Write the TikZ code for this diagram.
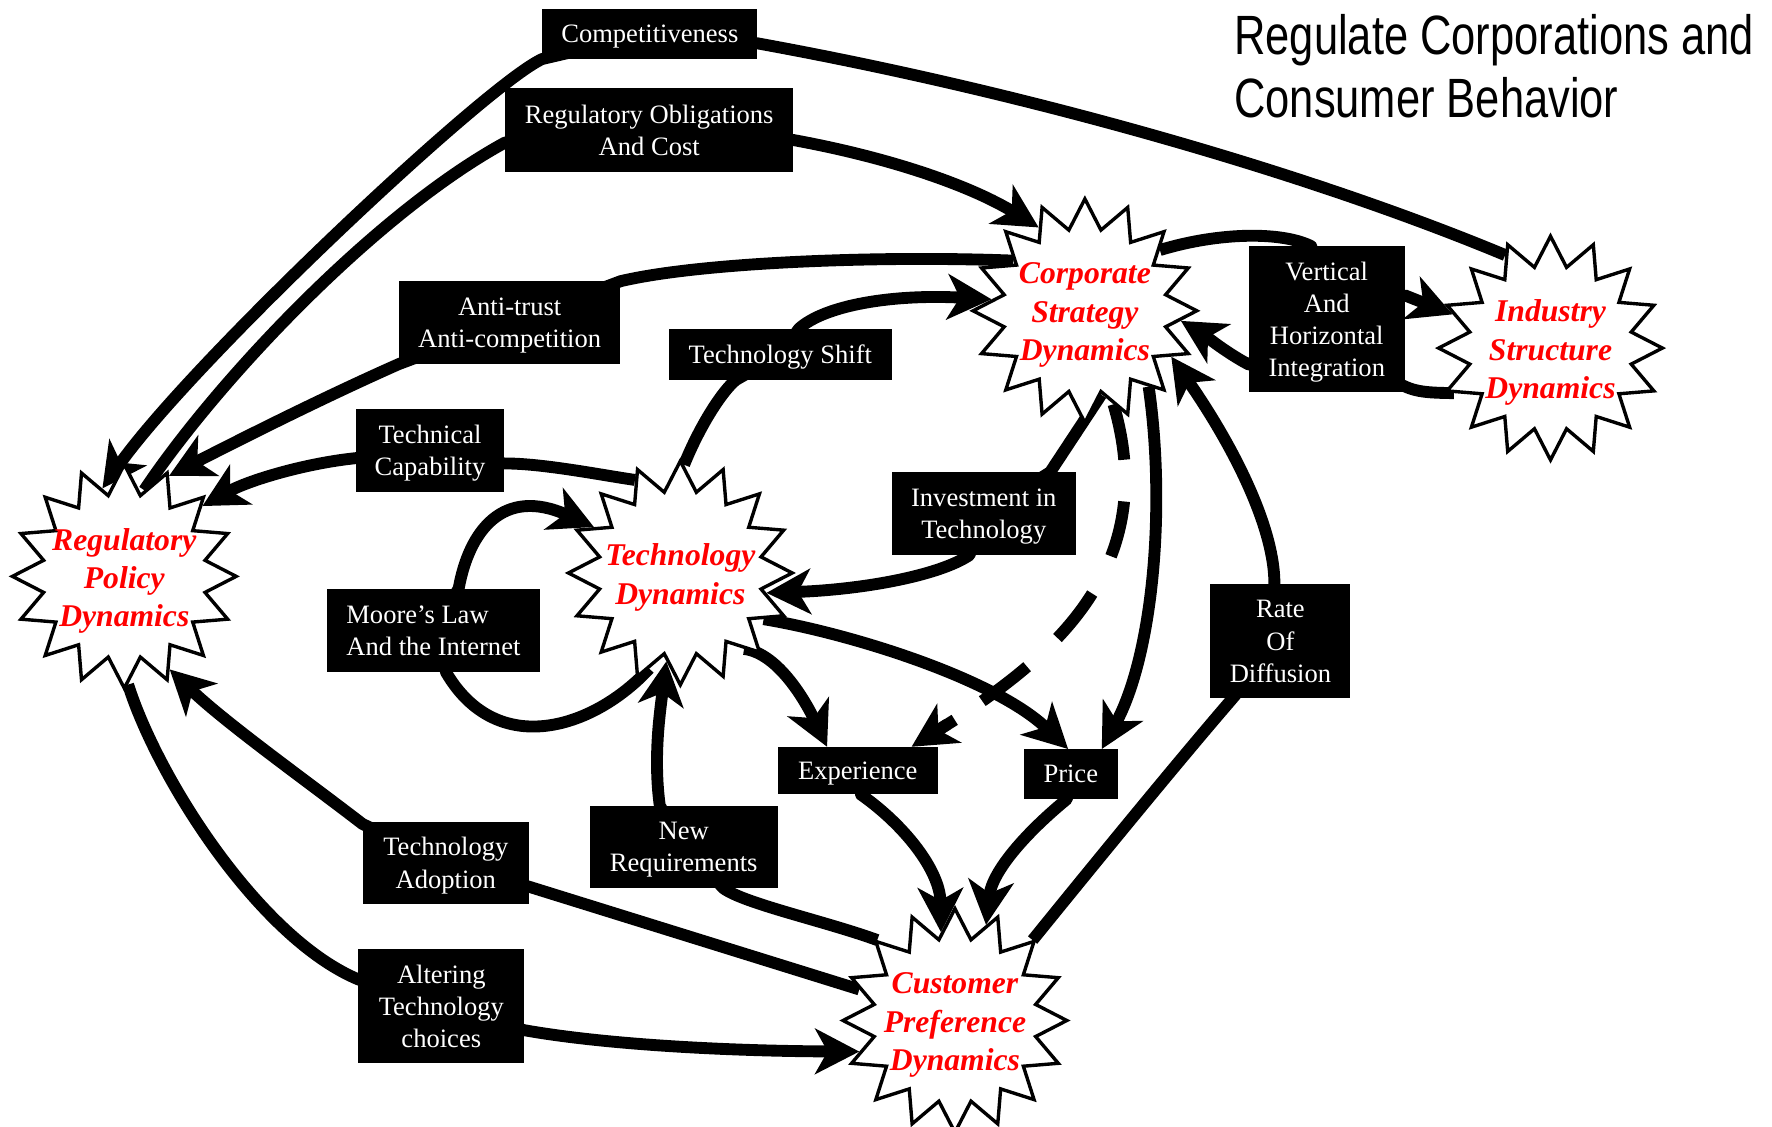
\documentclass[tikz,border=0pt]{standalone}
\usepackage{fontspec}
\setmainfont{Liberation Serif}
\newfontfamily\titlefont[FakeStretch=0.785]{Liberation Sans}
\usetikzlibrary{shapes.geometric,arrows.meta,calc}

\pgfdeclarelayer{back}
\pgfdeclarelayer{wires}
\pgfsetlayers{back,wires,main}

\newcommand\burstfont{\fontsize{28}{34}\selectfont\bfseries\itshape}
\newcommand\tagfont{\fontsize{23.5}{28.5}\selectfont}

\tikzset{
  burstlabel/.style={text=red, font=\burstfont, align=center, inner sep=0pt, yshift=-4pt},
  burst/.style={star, star points=16, star point ratio=1.36, draw=black,
    line width=3pt, fill=white, inner sep=0pt, minimum size=198pt,
    label={[burstlabel]center:{#1}}},
  tag/.style={fill=black, text=white, font=\tagfont, align=center, inner sep=0pt, text depth=0pt},
  wire/.style={line width=10.5pt, line join=round, draw=black},
  arrowwire/.style={wire, -{Stealth[length=39pt, width=40pt, inset=11pt]}},
  dashedwire/.style={wire, dash pattern=on 50pt off 37pt},
  heading/.style={anchor=base west, inner sep=0pt, font=\titlefont\fontsize{49}{56}\selectfont},
}

\begin{document}
\begin{tikzpicture}[x=1pt, y=-1pt]
\useasboundingbox (0,0) rectangle (1568,997);
\begin{pgfonlayer}{back}
  \fill[white] (0,0) rectangle (1568,997);
\end{pgfonlayer}

% title
\node[heading] (title1) at (1092,48) {Regulate Corporations and};
\node[heading] (title2) at (1092,104) {Consumer Behavior};

% the five dynamics
\node[burst={Regulatory\\Policy\\Dynamics}] (RP) at (110,510) {};
\node[burst={Technology\\Dynamics}] (TD) at (602,507) {};
\node[burst={Corporate\\Strategy\\Dynamics}] (CS) at (960,275) {};
\node[burst={Industry\\Structure\\Dynamics}] (IS) at (1372,308) {};
\node[burst={Customer\\Preference\\Dynamics}] (CP) at (845,903) {};

% link labels
\node[tag, minimum width=190pt, minimum height=44pt] (comp) at (575,30) {Competitiveness};
\node[tag, minimum width=255pt, minimum height=74pt] (regob) at (574.5,115) {Regulatory Obligations\\And Cost};
\node[tag, minimum width=196pt, minimum height=73pt] (anti) at (451,285.5) {Anti-trust\\Anti-competition};
\node[tag, minimum width=197pt, minimum height=45pt] (tshift) at (690.5,313.5) {Technology Shift};
\node[tag, minimum width=131pt, minimum height=73pt] (techcap) at (380.5,398.5) {Technical\\Capability};
\node[tag, minimum width=163pt, minimum height=73pt] (invest) at (870.5,454.5) {Investment in\\Technology};
\node[tag, minimum width=138pt, minimum height=129pt] (vert) at (1174,282.5) {Vertical\\And\\Horizontal\\Integration};
\node[tag, align=left, minimum width=189pt, minimum height=74pt] (moore) at (383.5,558) {Moore’s Law\\And the Internet};
\node[tag, minimum width=124pt, minimum height=101pt] (rate) at (1133,567.5) {Rate\\Of\\Diffusion};
\node[tag, minimum width=142pt, minimum height=42pt] (exper) at (759,682) {Experience};
\node[tag, minimum width=83pt, minimum height=44pt] (price) at (947.5,685) {Price};
\node[tag, minimum width=166pt, minimum height=73pt] (newreq) at (605,749.5) {New\\Requirements};
\node[tag, minimum width=147pt, minimum height=73pt] (techad) at (394.5,763.5) {Technology\\Adoption};
\node[tag, minimum width=147pt, minimum height=101pt] (alter) at (390.5,890.5) {Altering\\Technology\\choices};

\begin{pgfonlayer}{wires}
  % competitiveness
  \draw[wire] (IS.116) .. controls (1150,150) and (900,80) .. (comp.-5) -- (comp.center);
  \draw[arrowwire] (comp.center) -- (comp.south west) .. controls (430,75) and (170,320) .. (RP.104);
  % regulatory obligations
  \draw[wire] (RP.77) .. controls (190,340) and (330,190) .. (regob.185) -- (regob.center);
  \draw[arrowwire] (regob.center) -- (regob.-4) .. controls (790,140) and (860,165) .. (CS.119);
  % anti-trust
  \draw[wire] (CS.145) .. controls (780,226) and (620,232) .. (anti.north east) -- (anti.center);
  \draw[arrowwire] (anti.center) -- (anti.south west) .. controls (290,350) and (220,385) .. (RP.66);
  % technical capability
  \draw[wire] (TD.116) .. controls (530,420) and (480,410) .. (techcap.-10) -- (techcap.center);
  \draw[arrowwire] (techcap.center) -- (techcap.186) .. controls (270,410) and (220,425) .. (RP.42);
  % technology shift
  \draw[wire] (TD.88) .. controls (620,375) and (640,345) .. (tshift.210) -- (tshift.center);
  \draw[arrowwire] (tshift.center) -- (tshift.54) .. controls (730,270) and (790,260) .. (CS.173);
  % vertical and horizontal integration
  \draw[wire] (CS.39) .. controls (1080,205) and (1135,205) .. (vert.102) -- (vert.center);
  \draw[arrowwire] (vert.center) -- (vert.17) -- (IS.161);
  \draw[wire] (IS.205) .. controls (1240,347) .. (vert.center);
  \draw[arrowwire] (vert.center) -- (vert.210) .. controls (1085,312) and (1065,296) .. (CS.-6);
  % investment in technology
  \draw[wire] (CS.-79) -- (invest.32) -- (invest.center);
  \draw[arrowwire] (invest.center) -- (invest.-109) .. controls (830,510) and (760,522) .. (TD.-13);
  % corporate strategy to experience: dashed body, solid head
  \draw[dashedwire, shorten >=22pt] (CS.-73) .. controls (1030,510) and (920,590) .. (exper.24);
  \draw[arrowwire] ($(exper.24)!45pt!(920,590)$) -- (exper.24);
  % corporate strategy to price
  \draw[arrowwire] (CS.-50) .. controls (1032,450) and (1020,580) .. (price.39);
  % technology to price and experience
  \draw[arrowwire] (TD.-29) .. controls (750,560) and (880,600) .. (price.96);
  \draw[arrowwire] (TD.-50) .. controls (690,578) and (715,625) .. (exper.142);
  % moore's law loop
  \draw[wire] (TD.-108) .. controls (525,645) and (440,672) .. (moore.-73) -- (moore.center);
  \draw[arrowwire] (moore.center) -- (moore.59) .. controls (415,470) and (445,430) .. (TD.152);
  % new requirements
  \draw[wire] (CP.134) .. controls (730,815) and (660,800) .. (newreq.-46) -- (newreq.center);
  \draw[arrowwire] (newreq.center) -- (newreq.120) .. controls (578,670) and (584,630) .. (TD.-99);
  % technology adoption
  \draw[wire] (CP.162) -- (techad.-16) -- (techad.center);
  \draw[arrowwire] (techad.center) -- (techad.155) .. controls (270,690) and (200,640) .. (RP.-64);
  % altering technology choices
  \draw[wire] (RP.-88) .. controls (140,690) and (230,830) .. (alter.162) -- (alter.center);
  \draw[arrowwire] (alter.center) -- (alter.-16) .. controls (540,925) and (650,930) .. (CP.198);
  % experience and price into customer preference
  \draw[arrowwire] (exper.center) -- (exper.-82) .. controls (800,730) and (832,770) .. (CP.99);
  \draw[arrowwire] (price.center) -- (price.-99) .. controls (910,735) and (878,770) .. (CP.72);
  % rate of diffusion
  \draw[wire] (CP.46) .. controls (980,750) and (1050,665) .. (rate.-130) -- (rate.center);
  \draw[arrowwire] (rate.center) -- (rate.96) .. controls (1128,470) and (1095,400) .. (CS.-28);
\end{pgfonlayer}
\end{tikzpicture}
\end{document}
